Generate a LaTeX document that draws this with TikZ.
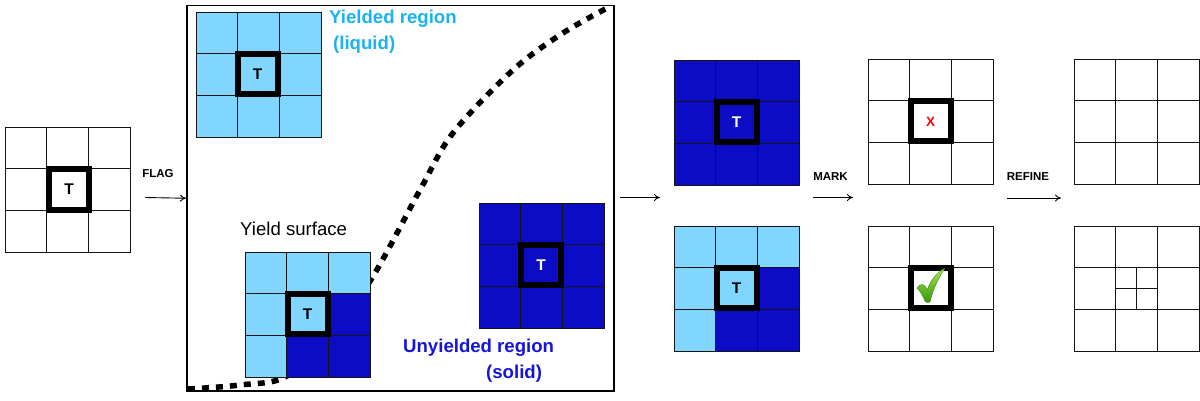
\documentclass[tikz,border=0pt]{standalone}
\usepackage{fontspec}
\setmainfont{Liberation Sans}
\usetikzlibrary{arrows.meta}
\definecolor{lightb}{RGB}{128,214,255}
\definecolor{darkb}{RGB}{12,12,196}
\definecolor{yieldtxt}{RGB}{26,178,242}
\definecolor{unytxt}{RGB}{20,20,222}
\definecolor{gridc}{RGB}{20,20,20}
\definecolor{chkl}{RGB}{170,230,80}
\definecolor{chkd}{RGB}{50,150,10}
\newcommand\gridat[3]{%
  \foreach \k in {1,2}{%
    \draw[gridline] ({#2+\k*125/3},#3) -- ++(0,125);
    \draw[gridline] (#2,{#3+\k*125/3}) -- ++(125,0);}
  \node[gridline, draw, minimum size=125pt, inner sep=0pt, anchor=north west] (#1) at (#2,#3) {};}
\newcommand\mixfill[2]{%
  \fill[lightb] (#1,#2) rectangle ++(125,125);
  \fill[darkb] ({#1+250/3},{#2+125/3}) rectangle ++(125/3,125/3);
  \fill[darkb] ({#1+125/3},{#2+250/3}) rectangle ++(250/3,125/3);}
\begin{document}
\begin{tikzpicture}[x=1pt,y=-1pt,
  gridline/.style={line width=1.4pt, draw=gridc},
  tbox/.style={draw=black, line width=6pt, minimum size=40pt, inner sep=0pt, font=\bfseries\fontsize{15.5}{15.5}\selectfont},
  lbl/.style={inner sep=0pt, font=\bfseries\fontsize{11.5}{12}\selectfont},
  big/.style={inner sep=0pt, anchor=west, font=\bfseries\fontsize{18.6}{20}\selectfont},
  flow/.style={-{To[length=6pt,width=7pt]}, line width=0.9pt},
  surf/.style={line width=5.5pt, dash pattern=on 7pt off 7pt}]
\useasboundingbox (0,0) rectangle (1200,401);

% left grid
\gridat{g0}{5}{127}
\node[tbox] (t0) at (69,189.5) {T};
\node[lbl] (flag) at (158,173.5) {FLAG};

% big box
\node[draw, line width=1.5pt, minimum width=427pt, minimum height=385pt, inner sep=0pt, anchor=north west] (bigbox) at (186,5) {};
\coordinate (fa) at (145,197.5);
\draw[flow] (fa) -- (bigbox.west);

% yield surface curve
\draw[surf] plot[smooth, tension=0.55] coordinates {(188,389) (240,385) (287,376) (333,330) (372,278) (420,190) (453,133) (513,70) (563,33) (611,6)};

% top-left grid (liquid)
\fill[lightb] (196,12) rectangle ++(125,125);
\gridat{g1}{196}{12}
\node[tbox] (t1) at (257.5,74) {T};
\node[big, text=yieldtxt] (yl1) at (329,19) {Yielded region};
\node[big, text=yieldtxt] (yl2) at (333,45) {(liquid)};

% bottom grid (mixed)
\mixfill{245}{252}
\gridat{g2}{245}{252}
\node[tbox] (t2) at (307.5,314) {T};
\node[inner sep=0pt, anchor=west, font=\fontsize{18.6}{20}\selectfont] (ys) at (240,229) {Yield surface};

% right grid (solid)
\fill[darkb] (479,203) rectangle ++(125,125);
\gridat{g3}{479}{203}
\node[tbox, text=white] (t3) at (541,265) {T};
\node[big, text=unytxt] (ul1) at (403,348) {Unyielded region};
\node[big, text=unytxt] (ul2) at (486,374) {(solid)};

% arrow to column
\coordinate (ba) at (620,197.5);
\coordinate (bb) at (660,197.5);
\draw[flow] (ba) -- (bb);

% column 1
\fill[darkb] (674,60) rectangle ++(125,125);
\gridat{g4}{674}{60}
\node[tbox, text=white] (t4) at (736.5,122) {T};
\mixfill{674}{226}
\gridat{g5}{674}{226}
\node[tbox] (t5) at (736.5,288) {T};

\node[lbl] (mark) at (830.5,177) {MARK};
\coordinate (ma) at (813,197.5);
\coordinate (mb) at (853,197.5);
\draw[flow] (ma) -- (mb);

% column 2
\gridat{g6}{868}{59}
\node[tbox, text=red, font=\bfseries\fontsize{13.5}{13.5}\selectfont] (t6) at (930.5,121.5) {X};
\gridat{g7}{868}{226}
\node[tbox] (t7) at (930.5,288) {};
\shade[top color=chkl, bottom color=chkd, draw=chkd!80!black, line width=0.3pt]
  (917,288) .. controls (920,283) and (925,283) .. (927,290)
  .. controls (931,280) and (936,273) .. (945,268)
  .. controls (939,277) and (933,289) .. (930,302)
  .. controls (928,303) and (926,303) .. (925,301)
  .. controls (923,296) and (920,291) .. (917,288) -- cycle;

\node[lbl] (refine) at (1028,177) {REFINE};
\coordinate (ra) at (1007,198);
\coordinate (rb) at (1061,198);
\draw[flow] (ra) -- (rb);

% column 3
\gridat{g8}{1074}{59}
\gridat{g9}{1074}{226}
\draw[gridline, line width=1.2pt] ({1074+125/2},{226+125/3}) -- ++(0,125/3);
\draw[gridline, line width=1.2pt] ({1074+125/3},{226+125/2}) -- ++(125/3,0);
\end{tikzpicture}
\end{document}
